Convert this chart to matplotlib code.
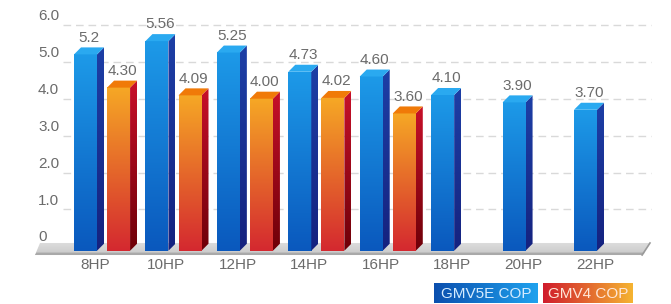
import numpy as np
import matplotlib
matplotlib.use('Agg')
import matplotlib.pyplot as plt
from matplotlib.colors import LinearSegmentedColormap
from matplotlib.patches import Polygon

categories = ['8HP', '10HP', '12HP', '14HP', '16HP', '18HP', '20HP', '22HP']
gmv5e = [5.2, 5.56, 5.25, 4.73, 4.60, 4.10, 3.90, 3.70]
gmv5e_labels = ['5.2', '5.56', '5.25', '4.73', '4.60', '4.10', '3.90', '3.70']
gmv4 = [4.30, 4.09, 4.00, 4.02, 3.60]
gmv4_labels = ['4.30', '4.09', '4.00', '4.02', '3.60']
series_names = ['GMV5E COP', 'GMV4 COP']
yticks = [0, 1, 2, 3, 4, 5, 6]
ytick_labels = ['0', '1.0', '2.0', '3.0', '4.0', '5.0', '6.0']

plt.rcParams['font.family'] = ['Liberation Sans', 'DejaVu Sans']

W, H = 671, 304
fig = plt.figure(figsize=(W / 100, H / 100), dpi=100)
ax = fig.add_axes([30 / W, (H - 260) / H, 625 / W, 255 / H])
ax.axis('off')

TXT = '#6b6b6b'
FS = 11


def grad_fill(ax, x0, x1, y0, y1, c_top, c_bot, clip=None, z=3, horizontal=False):
    cmap = LinearSegmentedColormap.from_list('g', [c_bot, c_top])
    if horizontal:
        arr = np.linspace(0, 1, 256).reshape(1, -1)
    else:
        arr = np.linspace(0, 1, 256).reshape(-1, 1)
    im = ax.imshow(arr, extent=[x0, x1, y0, y1], origin='lower', cmap=cmap,
                   aspect='auto', zorder=z, interpolation='bilinear')
    if clip is not None:
        im.set_clip_path(clip)
    return im


# gridlines
ax.hlines(yticks[1:], -0.45, 7.78, colors='#d9d9d9', linewidth=1.0,
          linestyles=(0, (5.5, 3.5)), zorder=1)
for t, lab in zip(yticks, ytick_labels):
    ax.annotate(lab, (-0.798, t), xytext=(0, 3.5), textcoords='offset points',
                ha='left', va='baseline', color=TXT, fontsize=FS)

# floor
floor = Polygon([(-0.77, 0.09), (7.77, 0.09), (7.66, -0.236), (-0.84, -0.236)],
                closed=True, transform=ax.transData)
grad_fill(ax, -0.84, 7.77, -0.236, 0.09, '#dedede', '#c8c8c8', clip=floor, z=2)
ax.add_patch(Polygon([(-0.82, -0.17), (7.70, -0.17), (7.66, -0.236), (-0.84, -0.236)],
                     closed=True, facecolor='#a9a9a9', edgecolor='none', zorder=2.1))
ax.plot([7.77, 7.66], [0.09, -0.236], color='#9a9a9a', lw=1.2, zorder=2.2)

bw = 0.322
dx = 0.098
dy = 0.19
base = -0.12


def bar3d(xcenter, v, front_top, front_bot, side_top, side_bot, top_col, z):
    x0 = xcenter - bw / 2
    x1 = xcenter + bw / 2
    grad_fill(ax, x0, x1, base, v, front_top, front_bot, z=z)
    side = Polygon([(x1, base), (x1 + dx, base + dy), (x1 + dx, v + dy), (x1, v)],
                   closed=True, transform=ax.transData)
    grad_fill(ax, x1, x1 + dx, base, v + dy, side_top, side_bot, clip=side, z=z)
    top = Polygon([(x0, v), (x1, v), (x1 + dx, v + dy), (x0 + dx, v + dy)],
                  closed=True, facecolor=top_col, edgecolor='none', zorder=z + 0.1)
    ax.add_patch(top)


for i, (v, lab) in enumerate(zip(gmv5e, gmv5e_labels)):
    xcb = i - 0.133
    bar3d(xcb, v, '#1d9ae8', '#0a58bd', '#1d3fa6', '#15227f', '#2aa9f0', 3)
    ax.annotate(lab, (xcb + dx / 2, v), xytext=(0, 7), textcoords='offset points',
                ha='center', va='bottom', color=TXT, fontsize=FS)

for i, (v, lab) in enumerate(zip(gmv4, gmv4_labels)):
    xco = i + 0.33
    bar3d(xco, v, '#f6a825', '#d42830', '#c8102a', '#6e0008', '#f07a08', 3)
    ax.annotate(lab, (xco + dx / 2, v), xytext=(0, 7), textcoords='offset points',
                ha='center', va='bottom', color=TXT, fontsize=FS)

for i, c in enumerate(categories):
    ax.text(i, -0.507, c, ha='center', va='center', color=TXT, fontsize=FS)

ax.set_xlim(-0.910, 7.840)
ax.set_ylim(-0.371, 6.539)

# legend boxes
leg_specs = [
    (series_names[0], 434, 104, '#0b4fae', '#1fa2ee', '#d6ecff'),
    (series_names[1], 543, 90, '#d01c2c', '#f5b432', '#ffe6d8'),
]
for name, lx, lw, cl, cr, tc in leg_specs:
    lax = fig.add_axes([lx / W, 1 / H, lw / W, 20 / H])
    lax.axis('off')
    cmap = LinearSegmentedColormap.from_list('lg', [cl, cr])
    lax.imshow(np.linspace(0, 1, 256).reshape(1, -1), cmap=cmap, aspect='auto',
               extent=[0, 1, 0, 1], interpolation='bilinear')
    lax.set_xlim(0, 1)
    lax.set_ylim(0, 1)
    lax.text(0.5, 0.47, name, ha='center', va='center', color=tc, fontsize=FS,
             transform=lax.transAxes)

fig.savefig('out.png', dpi=100)
